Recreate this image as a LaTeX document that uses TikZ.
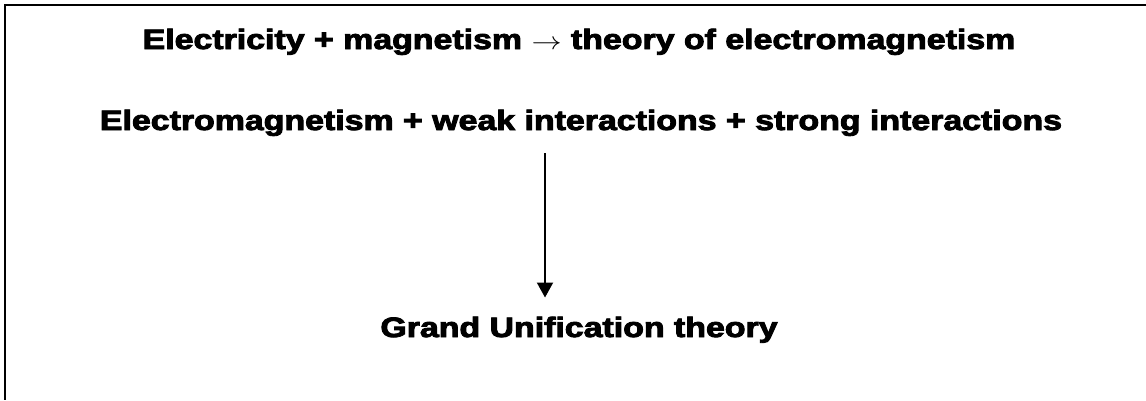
\documentclass[tikz,border=0pt]{standalone}
\usepackage{fontspec}
\usepackage{tikz}
\usetikzlibrary{arrows.meta}
\newfontfamily\heavyfont{Liberation Sans Bold}[FakeBold=3]
\newcommand{\widetext}[1]{\scalebox{1.21}[1]{#1}}

\begin{document}
\begin{tikzpicture}[x=1pt, y=-1pt,
        line/.style={anchor=base, inner sep=0pt, font=\heavyfont\fontsize{28}{32}\selectfont},
        frame/.style={line width=2.5pt},
        flow/.style={line width=2pt, -{Triangle[width=16pt, length=15pt]}}]
        \useasboundingbox (0,0) rectangle (1146,400);

        % Marco (solo lados superior e izquierdo)
        \draw[frame] (1146,5) -- (5,5) -- (5,400);

        % Lineas de texto
        \node[line] (elecmag) at (579,49) {\widetext{Electricity + magnetism $\rightarrow$ theory of electromagnetism}};
        \node[line] (unify) at (581,130) {\widetext{Electromagnetism + weak interactions + strong interactions}};
        \node[line] (gut) at (579,337) {\widetext{Grand Unification theory}};

        % Flecha hacia la teoria de gran unificacion
        \draw[flow] ([xshift=-36pt, yshift=-17pt]unify.south) coordinate (from) -- ([yshift=19pt]gut.north -| from);
    \end{tikzpicture}
\end{document}
